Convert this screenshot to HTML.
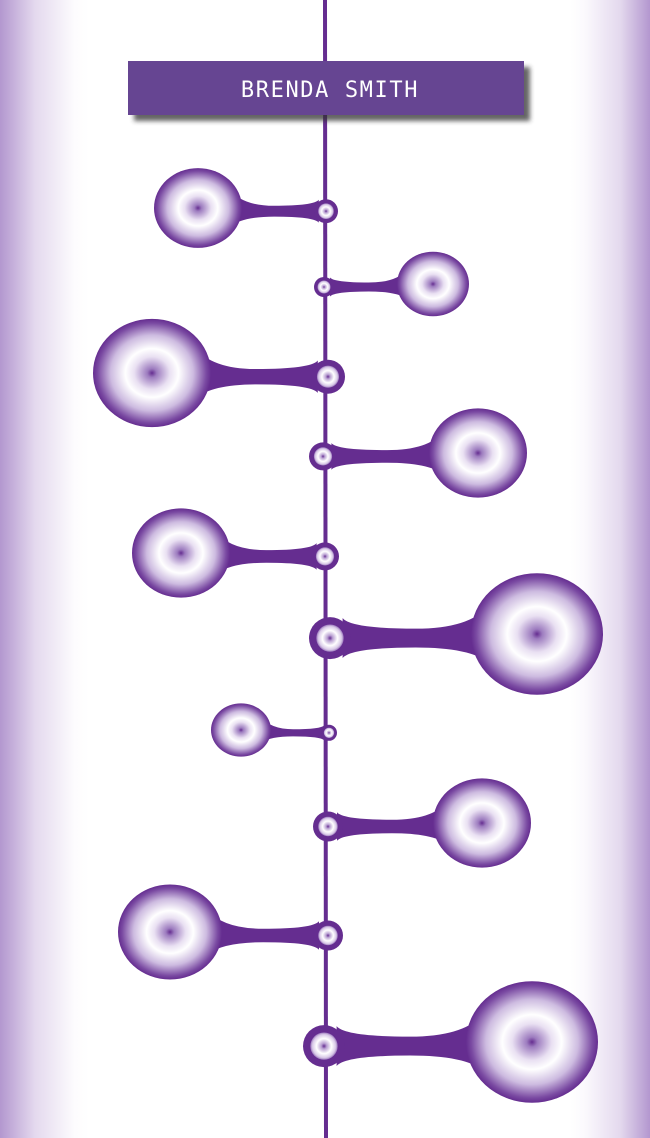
<!DOCTYPE html>
<html><head><meta charset="utf-8"><style>
html,body{margin:0;padding:0;background:#fff;}
#wrap{position:relative;width:650px;height:1138px;overflow:hidden;
background:linear-gradient(to right,#b397cf 0px,#e4d9ee 35px,#fdfcfe 75px,#fff 90px,#fff 570px,#fbf9fd 585px,#e4d9ee 620px,#b397cf 650px);}
svg{position:absolute;left:0;top:0;}
</style></head><body>
<div id="wrap">
<svg id="chart" width="650" height="1138">
<defs>
<radialGradient id="bg" cx="50%" cy="50%" r="50%">
<stop offset="0" stop-color="#652d90"/>
<stop offset="0.08" stop-color="#9d7cbf"/>
<stop offset="0.3" stop-color="#e9e0f2"/>
<stop offset="0.45" stop-color="#ffffff"/>
<stop offset="0.7" stop-color="#cdbbe0"/>
<stop offset="0.92" stop-color="#7a4aa2"/>
<stop offset="1" stop-color="#652d90"/>
</radialGradient>
<radialGradient id="ng" cx="50%" cy="50%" r="50%">
<stop offset="0" stop-color="#652d90"/>
<stop offset="0.2" stop-color="#b9a0d2"/>
<stop offset="0.55" stop-color="#ffffff"/>
<stop offset="0.85" stop-color="#d8c9e7"/>
<stop offset="1" stop-color="#9b78bd"/>
</radialGradient>
<filter id="sh" x="-10%" y="-30%" width="120%" height="180%"><feGaussianBlur stdDeviation="2.5"/></filter>
</defs>
<line x1="325" y1="0" x2="326" y2="1138" stroke="#652d90" stroke-width="4"/>
<g id="marks"></g>
<rect x="134" y="67" width="396" height="54" fill="#333" opacity="0.75" filter="url(#sh)"/>
<rect x="128" y="61" width="396" height="54" fill="#664592"/>
<text x="330" y="97" text-anchor="middle" fill="#fff" font-family="'DejaVu Sans Mono',monospace" font-size="22" letter-spacing="1.6">BRENDA SMITH</text>
</svg>
</div>
<script>
// data
const sides = ['L','R','L','R','L','R','L','R','L','R'];
const bubbleX = [198,433,152,478,181,537,241,482,170,532];
const bubbleY = [208,284,373,453,553,634,730,823,932,1042];
const bubbleR = [42,34,57,47,47,64,28,47,50,64];
const nodeR = [12,10,17,14,14,21,8,15,15,21];
const nodeX = [326,324,328,323,325,330,329,328,328,324];

const NS='http://www.w3.org/2000/svg';
const g=document.getElementById('marks');
function mk(t,a){const e=document.createElementNS(NS,t);for(const k in a)e.setAttribute(k,a[k]);return e;}
for(let i=0;i<bubbleX.length;i++){
  const bx=bubbleX[i], by=bubbleY[i], br=bubbleR[i], nx=nodeX[i], nr=nodeR[i];
  const ny=by+2+nr*0.1;
  const dir = bx<nx?-1:1;
  const x1=nx+dir*nr*0.6, x2=bx-dir*br*0.75;
  const hN=nr*0.95, hB=br*0.45, hM=Math.max(3,nr*0.45);
  const mx=(x1+x2)/2;
  const d=`M${x1},${ny-hN} Q${x1+dir*nr*0.4},${ny-hM} ${mx},${ny-hM} Q${x2-dir*br*0.3},${ny-hM} ${x2},${by-hB} L${x2},${by+hB} Q${x2-dir*br*0.3},${ny+hM} ${mx},${ny+hM} Q${x1+dir*nr*0.4},${ny+hM} ${x1},${ny+hN} Z`;
  const p=mk('path',{d:d,fill:'#652d90'});
  
  
  g.appendChild(p);
  const b=mk('ellipse',{cx:bx,cy:by,rx:br+2,ry:br*0.95,fill:'url(#bg)'});
  
  
  g.appendChild(b);
  const n=mk('circle',{cx:nx,cy:ny,r:nr,fill:'#652d90'});
  
  
  g.appendChild(n);
  const ni=mk('circle',{cx:nx,cy:ny,r:nr*0.65,fill:'url(#ng)'});
  
  
  g.appendChild(ni);
}
</script>
</body></html>
